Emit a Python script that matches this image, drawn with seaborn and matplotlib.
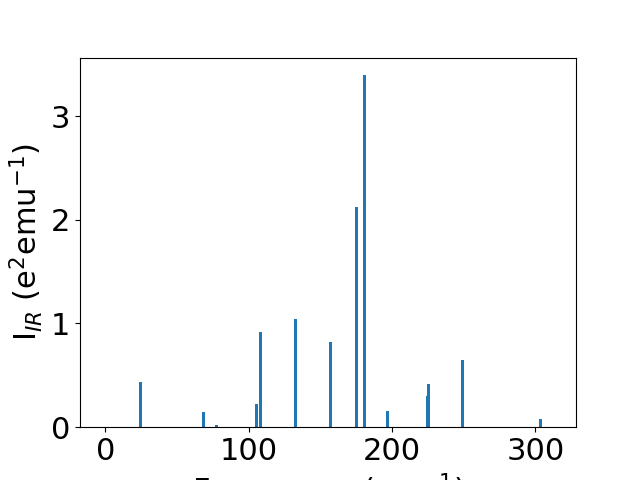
import numpy as np
import pandas as pd
import matplotlib
matplotlib.use("Agg")
import matplotlib.pyplot as plt
import seaborn as sns

# IR modes
frequency = [24.5, 68.4, 77.2, 105.4, 108.2, 132.6, 157.0, 175.2, 180.8,
             196.8, 224.4, 225.1, 249.1, 303.6]
intensity = [0.436, 0.147, 0.021, 0.224, 0.918, 1.043, 0.821, 2.123, 3.394,
             0.156, 0.300, 0.416, 0.648, 0.079]

df = pd.DataFrame({"freq": frequency, "ir": intensity})

# seaborn scales bar width by the smallest gap between positions
bar_w = 2.1
min_gap = np.diff(np.sort(df["freq"].values)).min()

fig, ax = plt.subplots(figsize=(6.4, 4.8), dpi=100)
sns.barplot(data=df, x="freq", y="ir", native_scale=True, width=bar_w / min_gap,
            color="#1f77b4", saturation=1, errorbar=None, linewidth=0, ax=ax)

ax.set_xlim(-17.7, 328.3)
ax.set_ylim(0, 3.564)
ax.set_xticks([0, 100, 200, 300])
ax.set_yticks([0, 1, 2, 3])
ax.tick_params(labelsize=22)
ax.set_xlabel("Frequency (cm$^{-1}$)", fontsize=22)
ax.set_ylabel("I$_{IR}$ (e$^2$emu$^{-1}$)", fontsize=22)

fig.savefig("out.png", dpi=100)
